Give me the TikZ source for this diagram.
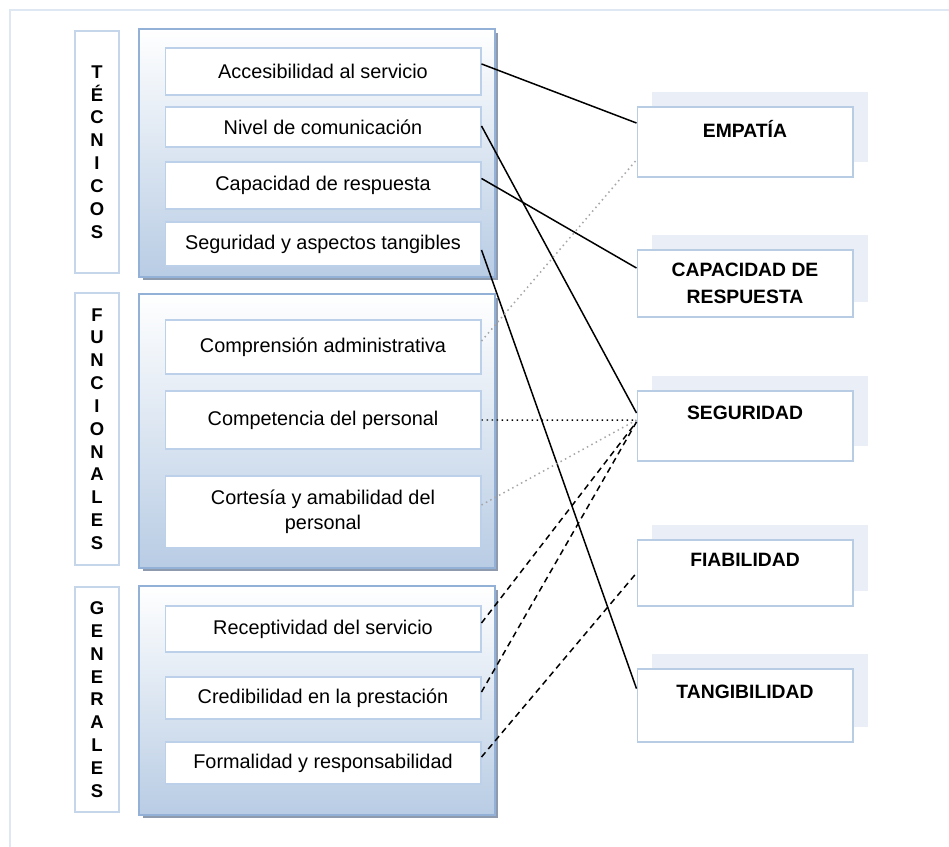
\documentclass[tikz,border=0pt]{standalone}
\usepackage{fontspec}
\setmainfont{Liberation Sans}
\usetikzlibrary{shadows}

\definecolor{framecol}{HTML}{DFE7F2}
\definecolor{tagline}{HTML}{C5D5EA}
\definecolor{grpline}{HTML}{93B0D6}
\definecolor{grpfill}{HTML}{B8CCE4}
\definecolor{shadowcol}{HTML}{8E9BAF}
\definecolor{itemline}{HTML}{BDD0EA}
\definecolor{dimline}{HTML}{B8CCE4}
\definecolor{dimback}{HTML}{E9EEF7}

\begin{document}
\begin{tikzpicture}[x=0.02cm, y=-0.02cm,
	tagbox/.style={draw=tagline, fill=white, line width=0.6pt, minimum width=0.88cm, align=center, inner sep=0pt, font=\fontsize{10.5}{13}\selectfont\bfseries},
	groupbox/.style={draw=grpline, line width=1.4pt, top color=white, bottom color=grpfill, minimum width=7.12cm, general shadow={shadow xshift=0.07cm, shadow yshift=-0.07cm, fill=shadowcol}},
	itembox/.style={draw=itemline, fill=white, line width=0.6pt, minimum width=6.32cm, align=center, inner sep=2pt, font=\fontsize{11.3}{14.2}\selectfont},
	dimbox/.style={draw=dimline, fill=white, line width=0.6pt, minimum width=4.32cm, align=center, font=\fontsize{11}{15.3}\selectfont\bfseries, general shadow={shadow xshift=0.3cm, shadow yshift=0.3cm, fill=dimback}},
	link/.style={line width=0.85pt}]
	
	% Page and frame
	\fill[white] (0,0) rectangle (949,847);
	\useasboundingbox (0,0) rectangle (949,847);
	\draw[framecol, line width=1.2pt] (949,10) -- (10,10) -- (10,847);
	
	% Group boxes
	\node[groupbox, minimum height=4.96cm] (tec) at (317,153) {};
	\node[groupbox, minimum height=5.48cm] (fun) at (317,431) {};
	\node[groupbox, minimum height=4.58cm] (gen) at (317,700.5) {};
	
	% Side tags
	\node[tagbox, minimum height=4.84cm] (tagtec) at (97,152) {T\\É\\C\\N\\I\\C\\O\\S};
	\node[tagbox, minimum height=5.44cm] (tagfun) at (97,429) {F\\U\\N\\C\\I\\O\\N\\A\\L\\E\\S};
	\node[tagbox, minimum height=4.5cm] (taggen) at (97,699.5) {G\\E\\N\\E\\R\\A\\L\\E\\S};
	
	% Items
	\node[itembox, minimum height=0.94cm] (acc) at (323,71.5) {Accesibilidad al servicio};
	\node[itembox, minimum height=0.8cm] (niv) at (323,127) {Nivel de comunicación};
	\node[itembox, minimum height=0.94cm] (cap) at (323,185.5) {Capacidad de respuesta};
	\node[itembox, minimum height=0.88cm] (seg) at (323,244) {Seguridad y aspectos tangibles};
	\node[itembox, minimum height=1.08cm] (com) at (323,347) {Comprensión administrativa};
	\node[itembox, minimum height=1.16cm] (cpt) at (323,420) {Competencia del personal};
	\node[itembox, minimum height=1.44cm] (cor) at (323,512) {Cortesía y amabilidad del\\personal};
	\node[itembox, minimum height=0.92cm] (rec) at (323,629) {Receptividad del servicio};
	\node[itembox, minimum height=0.84cm] (cre) at (323,698) {Credibilidad en la prestación};
	\node[itembox, minimum height=0.84cm] (frm) at (323,763) {Formalidad y responsabilidad};
	
	% Dimensions
	\node[dimbox, minimum height=1.4cm] (emp) at (745,142) {EMPATÍA\\\mbox{}};
	\node[dimbox, minimum height=1.34cm] (res) at (745,283.5) {CAPACIDAD DE\\RESPUESTA};
	\node[dimbox, minimum height=1.4cm] (sgd) at (745,426) {SEGURIDAD\\\mbox{}};
	\node[dimbox, minimum height=1.32cm] (fia) at (745,573) {FIABILIDAD\\\mbox{}};
	\node[dimbox, minimum height=1.46cm] (tan) at (745,705.5) {TANGIBILIDAD\\\mbox{}};
	
	% Connectors
	\draw[link] ([yshift=4.3pt]acc.east) -- ([yshift=10.8pt]emp.west);
	\draw[link] ([yshift=0.6pt]niv.east) -- ([yshift=7.4pt]sgd.west);
	\draw[link] ([yshift=4pt]cap.east) -- ([yshift=8.8pt]res.west);
	\draw[link] ([yshift=-3.4pt]seg.east) -- ([yshift=9.6pt]tan.west);
	\draw[link, dotted, gray!70] ([yshift=3.4pt]com.east) -- ([yshift=-10.2pt]emp.west);
	\draw[link, dotted] (cpt.east) -- ([yshift=3.4pt]sgd.west);
	\draw[link, dotted, gray!70] ([yshift=4pt]cor.east) -- ([yshift=3.4pt]sgd.west);
	\draw[link, dash pattern=on 3.5pt off 2.5pt] ([yshift=3.4pt]rec.east) -- ([yshift=2.3pt]sgd.west);
	\draw[link, dash pattern=on 3.5pt off 2.5pt] ([yshift=3.4pt]cre.east) -- ([yshift=2.3pt]sgd.west);
	\draw[link, dash pattern=on 3.5pt off 2.5pt] ([yshift=3.4pt]frm.east) -- (fia.west);
\end{tikzpicture}
\end{document}
